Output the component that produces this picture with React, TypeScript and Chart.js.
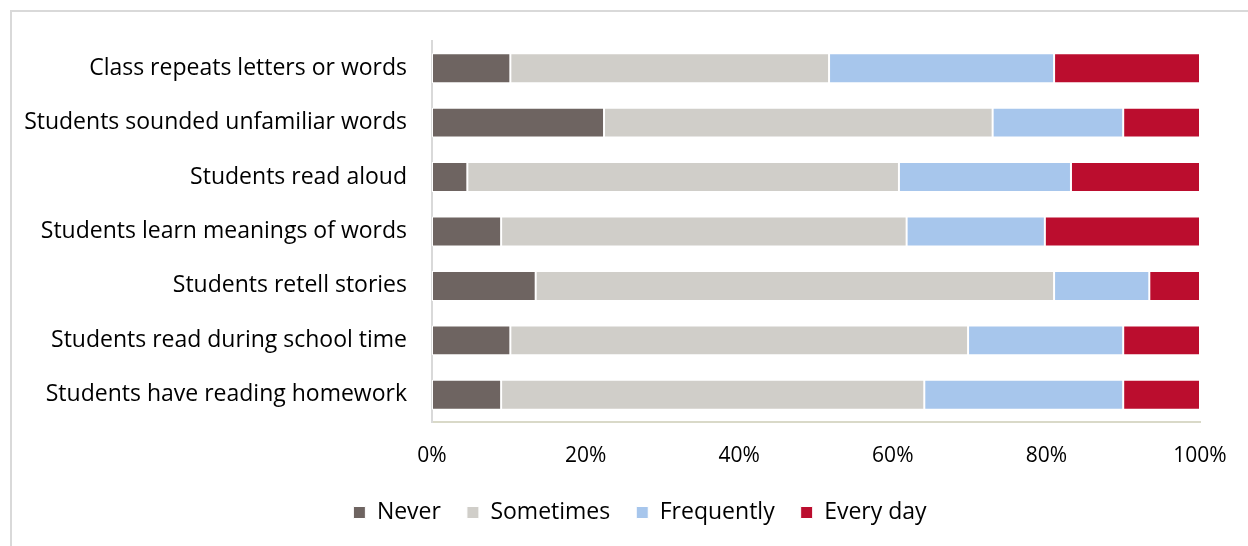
import React, { useEffect, useRef } from "react";
import { Chart, registerables } from "chart.js";

Chart.register(...registerables);

const categories = [
  "Class repeats letters or words",
  "Students sounded unfamiliar words",
  "Students read aloud",
  "Students learn meanings of words",
  "Students retell stories",
  "Students read during school time",
  "Students have reading homework",
];

const seriesNames = ["Never", "Sometimes", "Frequently", "Every day"];
const seriesColors = ["#6e6461", "#d0cec9", "#a7c6ec", "#bb0d2e"];

const never = [10.2, 22.4, 4.6, 9.0, 13.5, 10.2, 9.0];
const sometimes = [41.5, 50.6, 56.2, 52.8, 67.5, 59.6, 55.1];
const frequently = [29.3, 17.0, 22.4, 18.0, 12.4, 20.2, 25.9];
const everyDay = [19.0, 10.0, 16.8, 20.2, 6.6, 10.0, 10.0];

const xTicks = [0, 20, 40, 60, 80, 100];

const FONT = "'Open Sans', 'DejaVu Sans', sans-serif";

const legendShift = {
  id: "legendShift",
  afterLayout(chart: any) {
    const lg = chart.legend;
    if (lg) {
      lg.left += 40;
      lg.right += 40;
    }
  },
};

export default function App() {
  const ref = useRef<HTMLCanvasElement | null>(null);

  useEffect(() => {
    if (!ref.current) return;
    const values = [never, sometimes, frequently, everyDay];
    const chart = new Chart(ref.current, {
      type: "bar",
      data: {
        labels: categories,
        datasets: seriesNames.map((name, i) => ({
          label: name,
          data: values[i],
          backgroundColor: seriesColors[i],
          borderColor: "#ffffff",
          borderWidth: 1,
          borderSkipped: false,
          categoryPercentage: 0.55,
          barPercentage: 1,
        })),
      },
      plugins: [legendShift],
      options: {
        indexAxis: "y",
        animation: false,
        responsive: false,
        layout: { padding: { left: 0, right: 48, top: 41, bottom: 12 } },
        scales: {
          x: {
            stacked: true,
            min: 0,
            max: 100,
            afterBuildTicks: (scale: any) => {
              scale.ticks = xTicks.map((v) => ({ value: v }));
            },
            afterFit: (scale: any) => {
              scale.height = 53;
            },
            grid: { display: false, drawTicks: false },
            border: { display: true, color: "#d9d9c8", width: 2 },
            ticks: {
              padding: 21,
              color: "#000000",
              font: { family: FONT, size: 21 },
              callback: (v: any) => v + "%",
              maxRotation: 0,
            },
          },
          y: {
            stacked: true,
            afterFit: (scale: any) => {
              scale.width = 432;
            },
            grid: { display: false, drawTicks: false },
            border: { display: true, color: "#d9d9d9", width: 2 },
            ticks: {
              padding: 25,
              color: "#000000",
              font: { family: FONT, size: 23 },
            },
          },
        },
        plugins: {
          legend: {
            position: "bottom",
            labels: {
              boxWidth: 12,
              boxHeight: 12,
              padding: 26,
              color: "#000000",
              font: { family: FONT, size: 23 },
            },
          },
          tooltip: { enabled: false },
        },
      },
    });
    return () => chart.destroy();
  }, []);

  return (
    <div
      style={{
        position: "absolute",
        left: 0,
        top: 0,
        width: 1248,
        height: 546,
        overflow: "hidden",
        background: "#ffffff",
      }}
    >
      <div
        style={{
          position: "absolute",
          left: 10,
          top: 10,
          width: 1300,
          height: 600,
          border: "2px solid #d9d9d9",
          boxSizing: "border-box",
        }}
      />
      <canvas
        ref={ref}
        width={1248}
        height={546}
        style={{ position: "absolute", left: 0, top: 0, width: 1248, height: 546 }}
      />
    </div>
  );
}
